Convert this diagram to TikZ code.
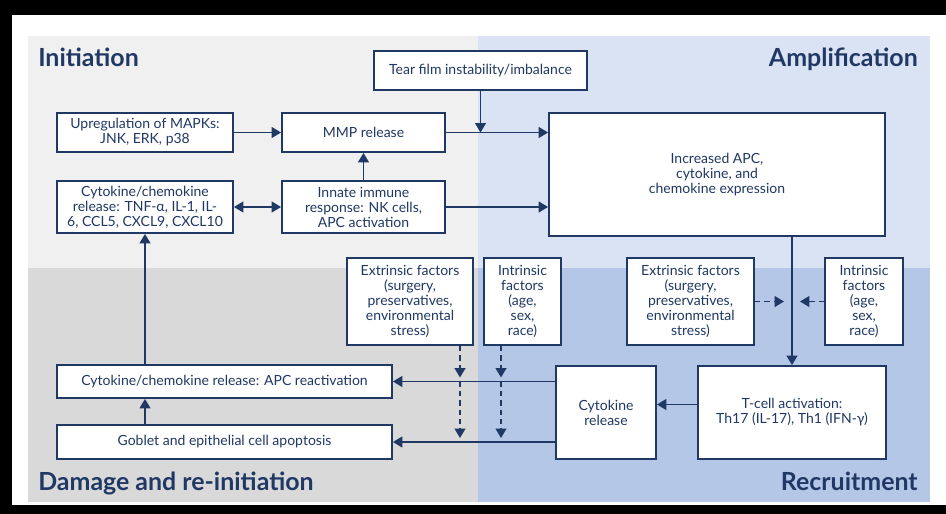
\documentclass[tikz,border=0pt]{standalone}
\usepackage{fontspec}
\setmainfont{Lato}
\usetikzlibrary{positioning}
\usetikzlibrary{arrows.meta}

\definecolor{navy}{RGB}{32,56,100}
\definecolor{initbg}{RGB}{240,240,240}
\definecolor{amplbg}{RGB}{218,227,243}
\definecolor{dmgbg}{RGB}{217,217,217}
\definecolor{recrbg}{RGB}{180,199,231}

\tikzset{
    box/.style={rectangle, draw=navy, line width=1.4pt, fill=white, text=navy,
        align=center, inner sep=1pt, font=\fontsize{10.5}{11.25}\selectfont},
    flow/.style={draw=navy, line width=1.4pt, -{Triangle[length=7pt,width=8pt]}},
    dashflow/.style={flow, dash pattern=on 4pt off 3pt},
    phase/.style={text=navy, inner sep=0pt, font=\fontsize{18.7}{20}\selectfont\bfseries},
}

\begin{document}
\begin{tikzpicture}[x=0.75pt, y=-0.75pt]
    % frame and panels %
    \useasboundingbox (0,0) rectangle (946,514);
    \fill[black] (0,0) rectangle (946,15);
    \fill[black] (0,0) rectangle (12,514);
    \fill[black] (0,505) rectangle (946,514);
    \fill[initbg] (28,36) rectangle (478,268);
    \fill[amplbg] (478,36) rectangle (930,268);
    \fill[dmgbg] (28,268) rectangle (478,502);
    \fill[recrbg] (478,268) rectangle (930,502);
    % titles %
    \node[phase, anchor=base west] (tinit) at (38,66) {Initiation};
    \node[phase, anchor=base east] (tampl) at (918,66) {Amplification};
    \node[phase, anchor=base west] (tdmg) at (38,490) {Damage and re-initiation};
    \node[phase, anchor=base east] (trecr) at (918,490) {Recruitment};
    % nodes %
    \node[box, minimum width=159.75pt, minimum height=29.25pt] (tear) at (480.5,70.5) {Tear film instability/imbalance};
    \node[box, minimum width=132pt, minimum height=29.25pt] (mapk) at (145,132.5) {Upregulation of MAPKs:\\JNK, ERK, p38};
    \node[box, minimum width=122.25pt, minimum height=29.25pt] (mmp) at (363.5,132.5) {MMP release};
    \node[box, minimum width=132pt, minimum height=39pt] (cyto) at (145,207) {Cytokine/chemokine\\release: TNF-α, IL-1, IL-\\6, CCL5, CXCL9, CXCL10};
    \node[box, minimum width=122.25pt, minimum height=39pt] (innate) at (363.5,207) {Innate immune\\response: NK cells,\\APC activation};
    \node[box, minimum width=252pt, minimum height=92.25pt] (apc) at (717,174.5) {Increased APC,\\cytokine, and\\chemokine expression};
    \node[box, minimum width=94.5pt, minimum height=65.25pt] (extL) at (410,301.5) {Extrinsic factors\\(surgery,\\preservatives,\\environmental\\stress)};
    \node[box, minimum width=57.75pt, minimum height=65.25pt] (intL) at (522.5,301.5) {Intrinsic\\factors\\(age,\\sex,\\race)};
    \node[box, minimum width=95.25pt, minimum height=65.25pt] (extR) at (690.5,301.5) {Extrinsic factors\\(surgery,\\preservatives,\\environmental\\stress)};
    \node[box, minimum width=58.5pt, minimum height=65.25pt] (intR) at (864,301.5) {Intrinsic\\factors\\(age,\\sex,\\race)};
    \node[box, minimum width=75pt, minimum height=69.75pt] (crel) at (606,412.5) {Cytokine\\release};
    \node[box, minimum width=141pt, minimum height=69.75pt] (tcell) at (792,412.5) {T-cell activation:\\Th17 (IL-17), Th1 (IFN-γ)};
    \node[box, minimum width=251.25pt, minimum height=24.75pt] (react) at (224.5,381.5) {Cytokine/chemokine release: APC reactivation};
    \node[box, minimum width=251.25pt, minimum height=25.5pt] (goblet) at (224.5,442) {Goblet and epithelial cell apoptosis};
    \coordinate (exttap) at (460,0);
    \coordinate (inttap) at (501,0);
    % edges %
    \draw[flow] (mapk) -- (mmp);
    \draw[flow] (innate) -- (mmp);
    \draw[flow, {Triangle[length=7pt,width=8pt]}-{Triangle[length=7pt,width=8pt]}] (cyto) -- (innate);
    \draw[flow] (mmp.east) -- (mmp.east -| apc.west);
    \draw[flow] (tear.south) -- (tear.south |- mmp.east);
    \draw[flow] (innate.east) -- (innate.east -| apc.west);
    \draw[flow] (tcell.north |- apc.south) -- (tcell.north);
    \draw[dashflow, shorten >=6pt] (extR.east) -- (extR.east -| tcell.north);
    \draw[dashflow, shorten >=6pt] (intR.west) -- (intR.west -| tcell.north);
    \draw[flow] ([yshift=6pt]tcell.west) -- ([yshift=6pt]crel.east);
    \draw[flow] (crel.west |- react.east) -- (react.east);
    \draw[flow] (crel.west |- goblet.east) -- (goblet.east);
    \draw[dashflow, shorten >=3pt] (extL.south -| exttap) -- (react.east -| exttap);
    \draw[dashflow, shorten >=3pt] (react.east -| exttap) -- (goblet.east -| exttap);
    \draw[dashflow, shorten >=3pt] (intL.south -| inttap) -- (react.east -| inttap);
    \draw[dashflow, shorten >=3pt] (react.east -| inttap) -- (goblet.east -| inttap);
    \draw[flow] (goblet.north -| cyto) -- (react.south -| cyto);
    \draw[flow] (react.north -| cyto) -- (cyto.south);
\end{tikzpicture}
\end{document}
